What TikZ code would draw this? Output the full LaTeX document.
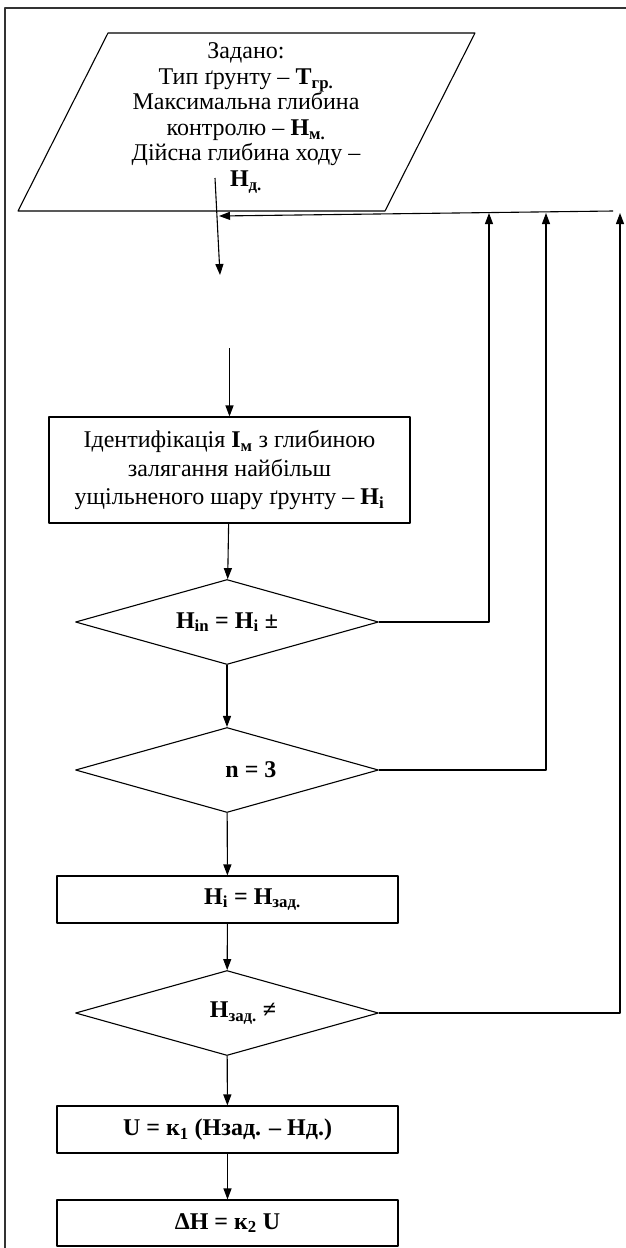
\documentclass[tikz,border=0pt]{standalone}
\usepackage{fontspec}
\setmainfont{Liberation Serif}
\usetikzlibrary{shapes.geometric,arrows.meta}
\begin{document}
\begin{tikzpicture}[x=1pt,y=-1pt,line join=round,>={Triangle[length=11pt,width=8pt]},
	font=\fontsize{24}{25.5}\selectfont,
	blok/.style={draw,line width=1.1pt,align=center,inner sep=0pt},
	romb/.style={draw,diamond,aspect=3.56,line width=1.1pt,inner sep=0pt,minimum width=303,minimum height=85},
	luk/.style={->,line width=1.1pt}]
	\useasboundingbox (0,0) rectangle (625,1248);
	% ramka
	\draw[line width=1.2pt,black!80] (5,1250)--(5,8)--(627,8);
	% vkhidni dani
	\draw[line width=1.1pt] (108,33)--(475,33)--(385,211)--(18,211)--cycle;
	\node[align=center] (zadano) at (246,118) {Задано:\\
		Тип ґрунту – \textbf{Т\textsubscript{гр.}}\\
		Максимальна глибина\\
		контролю – \textbf{Н\textsubscript{м.}}\\
		Дійсна глибина ходу –\\
		\textbf{Н\textsubscript{д.}}};
	\node[blok,minimum width=361,minimum height=106,font=\fontsize{24}{28.5}\selectfont] (ident) at (229.5,470)
	{Ідентифікація \textbf{I\textsubscript{м}} з глибиною\\
		залягання найбільш\\
		ущільненого шару ґрунту – \textbf{H\textsubscript{i}}};
	\node[romb] (d1) at (227,622) {\textbf{H\textsubscript{in} = H\textsubscript{i} ±}};
	\node[romb] (d2) at (227,770) {\hspace*{48pt}\textbf{n = 3}};
	\node[blok,minimum width=341,minimum height=47] (hzad) at (227.5,899.5) {\hspace*{50pt}\textbf{H\textsubscript{i} = H\textsubscript{зад.}}};
	\node[romb] (d3) at (227,1013) {\hspace*{32pt}\textbf{H\textsubscript{зад.} ≠}};
	\node[blok,minimum width=341,minimum height=47] (u) at (227.5,1129.5) {\textbf{U = к\textsubscript{1} (Нзад. – Нд.)}};
	\node[blok,minimum width=341,minimum height=46] (dh) at (227.5,1223) {\textbf{ΔH = к\textsubscript{2} U}};
	% strilky
	\coordinate (a1) at (215,178);
	\coordinate (a2) at (220,275);
	\coordinate (a3) at (229.5,348);
	\coordinate (t1) at (613,211);
	\coordinate (t2) at (219,216);
	\coordinate (r1) at (489,213);
	\coordinate (r2) at (546,213);
	\coordinate (r3) at (620,213);
	\draw[luk] (a1)--(a2);
	\draw[luk] (a3)--(ident);
	\draw[luk] (ident)--(d1);
	\draw[luk] (d1)--(d2);
	\draw[luk] (d2)--(hzad);
	\draw[luk] (hzad)--(d3);
	\draw[luk] (d3)--(u);
	\draw[luk] (u)--(dh);
	\draw[luk] (t1)--(t2);
	\draw[luk] (d1.east)-|(r1);
	\draw[luk] (d2.east)-|(r2);
	\draw[luk] (d3.east)-|(r3);
\end{tikzpicture}
\end{document}
